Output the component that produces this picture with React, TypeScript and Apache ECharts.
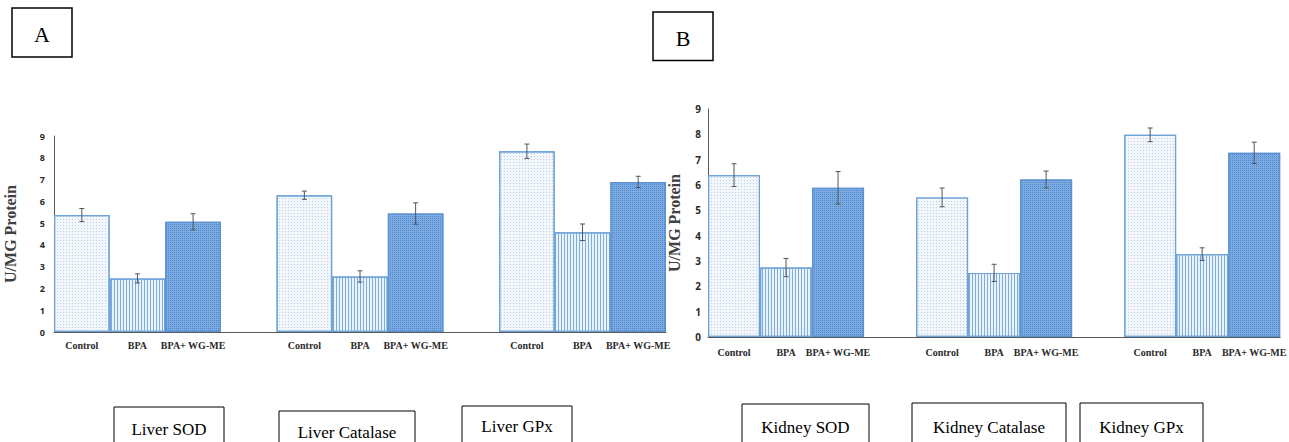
import React, { useEffect, useRef } from "react";
import * as echarts from "echarts";

const treatments = ["Control", "BPA", "BPA+ WG-ME"];
const yTicks = [0, 1, 2, 3, 4, 5, 6, 7, 8, 9];

// Panel A (liver)
const liverGroups = ["Liver SOD", "Liver Catalase", "Liver GPx"];
const liverSOD = [5.37, 2.46, 5.06];
const liverSODErr = [0.3, 0.21, 0.37];
const liverCatalase = [6.28, 2.55, 5.44];
const liverCatalaseErr = [0.19, 0.26, 0.49];
const liverGPx = [8.3, 4.58, 6.89];
const liverGPxErr = [0.33, 0.38, 0.26];

// Panel B (kidney)
const kidneyGroups = ["Kidney SOD", "Kidney Catalase", "Kidney GPx"];
const kidneySOD = [6.39, 2.74, 5.89];
const kidneySODErr = [0.45, 0.36, 0.64];
const kidneyCatalase = [5.51, 2.53, 6.22];
const kidneyCatalaseErr = [0.37, 0.34, 0.33];
const kidneyGPx = [7.98, 3.27, 7.27];
const kidneyGPxErr = [0.27, 0.25, 0.42];

const BORDER = "#6fa3d8";
const treatmentStyles = [
  {
    color: "#f3f7fc",
    borderColor: BORDER,
    borderWidth: 1.2,
    decal: {
      symbol: "rect",
      symbolSize: 1,
      color: "#b3cdea",
      dashArrayX: [1, 2],
      dashArrayY: [1, 2],
      rotation: 0,
    },
  },
  {
    color: "#eaf2fb",
    borderColor: BORDER,
    borderWidth: 1.2,
    decal: {
      symbol: "rect",
      symbolSize: 1,
      color: "#7eaee0",
      dashArrayX: [1, 2],
      dashArrayY: [4, 0],
      rotation: 0,
    },
  },
  {
    color: "#7cace2",
    borderColor: "#5b93d2",
    borderWidth: 1.2,
    decal: {
      symbol: "rect",
      symbolSize: 1,
      color: "#4f86cc",
      dashArrayX: [1, 1],
      dashArrayY: [1, 1],
      rotation: 0,
    },
  },
];

function buildPanel(groups: string[], means: number[][], errs: number[][]) {
  const cats: string[] = [];
  const bars: any[] = [];
  const errData: any[] = [];
  groups.forEach((g, gi) => {
    treatments.forEach((t, ti) => {
      const idx = cats.length;
      cats.push(g + "|" + t);
      bars.push({ value: means[gi][ti], itemStyle: treatmentStyles[ti] });
      errData.push([idx, means[gi][ti] - errs[gi][ti], means[gi][ti] + errs[gi][ti]]);
    });
    if (gi < groups.length - 1) {
      cats.push(g + "|");
      bars.push("-");
    }
  });
  return { cats, bars, errData };
}

const panelA = buildPanel(
  liverGroups,
  [liverSOD, liverCatalase, liverGPx],
  [liverSODErr, liverCatalaseErr, liverGPxErr]
);
const panelB = buildPanel(
  kidneyGroups,
  [kidneySOD, kidneyCatalase, kidneyGPx],
  [kidneySODErr, kidneyCatalaseErr, kidneyGPxErr]
);

function errRender(params: any, api: any) {
  const x = api.value(0);
  const lo = api.coord([x, api.value(1)]);
  const hi = api.coord([x, api.value(2)]);
  const cap = 2.5;
  const style = { stroke: "#555555", lineWidth: 1 };
  return {
    type: "group",
    children: [
      { type: "line", shape: { x1: lo[0], y1: lo[1], x2: hi[0], y2: hi[1] }, style },
      { type: "line", shape: { x1: lo[0] - cap, y1: lo[1], x2: lo[0] + cap, y2: lo[1] }, style },
      { type: "line", shape: { x1: hi[0] - cap, y1: hi[1], x2: hi[0] + cap, y2: hi[1] }, style },
    ],
  };
}

const serif = "Liberation Serif";
const sans = "Open Sans";

function xAxisFor(gridIndex: number, cats: string[], margin: number) {
  return {
    type: "category",
    gridIndex,
    data: cats,
    boundaryGap: true,
    axisLine: { show: true, lineStyle: { color: "#595959", width: 1 } },
    axisTick: { show: false },
    axisLabel: {
      interval: 0,
      margin,
      fontFamily: serif,
      fontWeight: "bold",
      fontSize: 10,
      color: "#2a2a2a",
      formatter: (v: string) => v.split("|")[1] || "",
    },
    splitLine: { show: false },
  };
}

function yAxisFor(gridIndex: number, fontSize: number, nameSize: number, nameGap: number, margin: number) {
  return {
    type: "value",
    gridIndex,
    min: yTicks[0],
    max: yTicks[yTicks.length - 1],
    interval: 1,
    name: "U/MG Protein",
    nameLocation: "middle",
    nameGap,
    nameTextStyle: { fontFamily: serif, fontWeight: "bold", fontSize: nameSize, color: "#404040" },
    axisLine: { show: true, lineStyle: { color: "#595959", width: 1 } },
    axisTick: { show: false },
    axisLabel: {
      margin,
      fontFamily: sans,
      fontWeight: "bold",
      fontSize,
      color: "#2a2a2a",
    },
    splitLine: { show: false },
  };
}

function boxGraphic(x: number, y: number, w: number, h: number, text: string, ty: number, fontSize: number, lw: number) {
  return [
    {
      type: "rect",
      shape: { x, y, width: w, height: h },
      style: { fill: "#ffffff", stroke: "#000000", lineWidth: lw },
      z: 10,
    },
    {
      type: "text",
      x: x + w / 2,
      y: ty,
      style: {
        text,
        fontFamily: serif,
        fontSize,
        fill: "#000000",
        textAlign: "center",
        textVerticalAlign: "middle",
      },
      z: 11,
    },
  ];
}

export default function App() {
  const ref = useRef<HTMLDivElement>(null);
  useEffect(() => {
    if (!ref.current) return;
    const chart = echarts.init(ref.current, null, { renderer: "svg" });
    const graphics: any[] = [
      ...boxGraphic(12, 8, 60, 49, "A", 34, 22, 1.5),
      ...boxGraphic(653, 12, 60, 48.5, "B", 38, 22, 1.5),
      ...boxGraphic(114, 407, 110, 50, liverGroups[0], 429, 17, 1),
      ...boxGraphic(279, 411, 136, 50, liverGroups[1], 432, 17, 1),
      ...boxGraphic(462, 406, 110, 50, liverGroups[2], 426, 17, 1),
      ...boxGraphic(742, 404, 127, 50, kidneyGroups[0], 427, 17, 1),
      ...boxGraphic(912, 403, 154, 50, kidneyGroups[1], 427, 17, 1),
      ...boxGraphic(1080, 403, 123, 50, kidneyGroups[2], 427, 17, 1),
    ];
    chart.setOption({
      animation: false,
      backgroundColor: "#ffffff",
      textStyle: { fontFamily: serif },
      grid: [
        { left: 54, top: 136, width: 612, height: 196 },
        { left: 708, top: 109, width: 584, height: 228 },
      ],
      xAxis: [xAxisFor(0, panelA.cats, 8), xAxisFor(1, panelB.cats, 10)],
      yAxis: [yAxisFor(0, 9, 16, 36, 9), yAxisFor(1, 10, 16, 26, 7)],
      series: [
        {
          type: "bar",
          xAxisIndex: 0,
          yAxisIndex: 0,
          data: panelA.bars,
          barWidth: "100%",
          barCategoryGap: 0,
        },
        {
          type: "custom",
          xAxisIndex: 0,
          yAxisIndex: 0,
          data: panelA.errData,
          renderItem: errRender,
          encode: { x: 0, y: [1, 2] },
          z: 5,
        },
        {
          type: "bar",
          xAxisIndex: 1,
          yAxisIndex: 1,
          data: panelB.bars,
          barWidth: "100%",
          barCategoryGap: 0,
        },
        {
          type: "custom",
          xAxisIndex: 1,
          yAxisIndex: 1,
          data: panelB.errData,
          renderItem: errRender,
          encode: { x: 0, y: [1, 2] },
          z: 5,
        },
      ],
      graphic: graphics,
    });
    return () => chart.dispose();
  }, []);
  return (
    <div
      ref={ref}
      style={{ position: "fixed", left: 0, top: 0, width: 1289, height: 442, background: "#fff" }}
    />
  );
}
